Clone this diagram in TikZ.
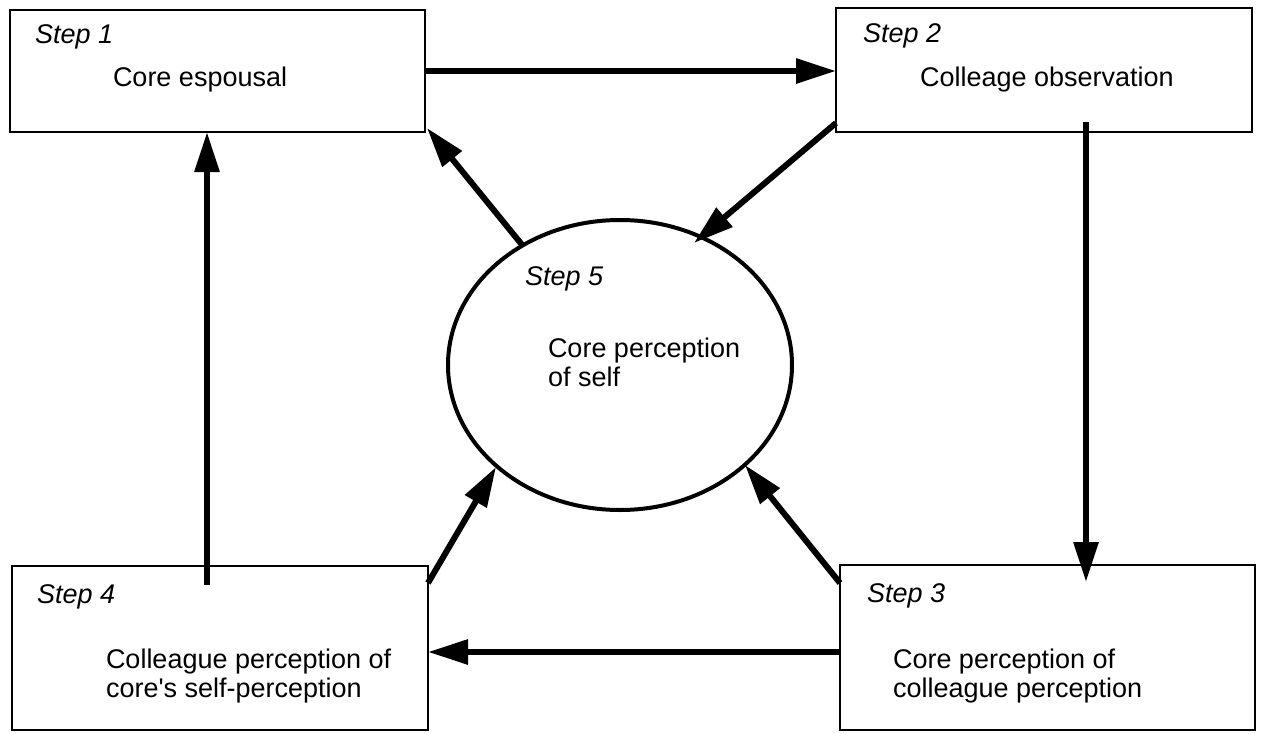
\documentclass[tikz,border=0pt]{standalone}
\usepackage{fontspec}
\setmainfont{Liberation Sans}
\usetikzlibrary{arrows.meta,shapes.geometric}
\begin{document}
\begin{tikzpicture}[x=0.5pt,y=-0.5pt,
  box/.style={draw,line width=1.4pt,rectangle,inner sep=0pt,outer sep=0pt,anchor=north west},
  txt/.style={inner sep=0pt,outer sep=0pt,anchor=base west,align=left,font=\fontsize{13.5}{14.5}\selectfont},
  steplbl/.style={txt,font=\fontsize{13.5}{14.5}\selectfont\itshape},
  conn/.style={line width=3pt,-{Triangle[length=20pt,width=12pt]},shorten >=0pt}
]
\useasboundingbox (0,0) rectangle (1265,734);
% boxes
\node[box,minimum width=207.5pt,minimum height=61pt] (b1) at (10,10) {};
\node[box,minimum width=208pt,minimum height=62pt] (b2) at (836,8) {};
\node[box,minimum width=207.5pt,minimum height=82.5pt] (b3) at (840,565) {};
\node[box,minimum width=208pt,minimum height=82pt] (b4) at (12,566) {};
\node[draw,ellipse,line width=2pt,inner sep=0pt,minimum width=172pt,minimum height=145pt] (c5) at (620,365) {};
% texts
\node[steplbl] (s1) at (35,43) {Step 1};
\node[txt] (t1) at (113,86) {Core espousal};
\node[steplbl] (s2) at (863,42) {Step 2};
\node[txt] (t2) at (920,86) {Colleage observation};
\node[steplbl] (s3) at (867,602) {Step 3};
\node[txt] (t3) at (893,697) {Core perception of\\colleague perception};
\node[steplbl] (s4) at (37,603) {Step 4};
\node[txt] (t4) at (106,697) {Colleague perception of\\core\textquotesingle s self-perception};
\node[steplbl] (s5) at (525,285) {Step 5};
\node[txt] (t5) at (548,386) {Core perception\\of self};
% connector end points
\coordinate (a12s) at (425,71);
\coordinate (a12e) at (836,71);
\coordinate (a23s) at (1086,122);
\coordinate (a23e) at (1086,582);
\coordinate (a34s) at (840,652);
\coordinate (a34e) at (428,652);
\coordinate (a41s) at (207,585);
\coordinate (a41e) at (207,132);
\coordinate (a51s) at (523,246);
\coordinate (a51e) at (427,128);
\coordinate (a25s) at (836,123);
\coordinate (a25e) at (694,243);
\coordinate (a45s) at (428,583);
\coordinate (a45e) at (496,467);
\coordinate (a35s) at (840,583);
\coordinate (a35e) at (745,465);
% connectors
\draw[conn] (a12s) -- (a12e);
\draw[conn] (a23s) -- (a23e);
\draw[conn] (a34s) -- (a34e);
\draw[conn] (a41s) -- (a41e);
\draw[conn] (a51s) -- (a51e);
\draw[conn] (a25s) -- (a25e);
\draw[conn] (a45s) -- (a45e);
\draw[conn] (a35s) -- (a35e);
\end{tikzpicture}
\end{document}
